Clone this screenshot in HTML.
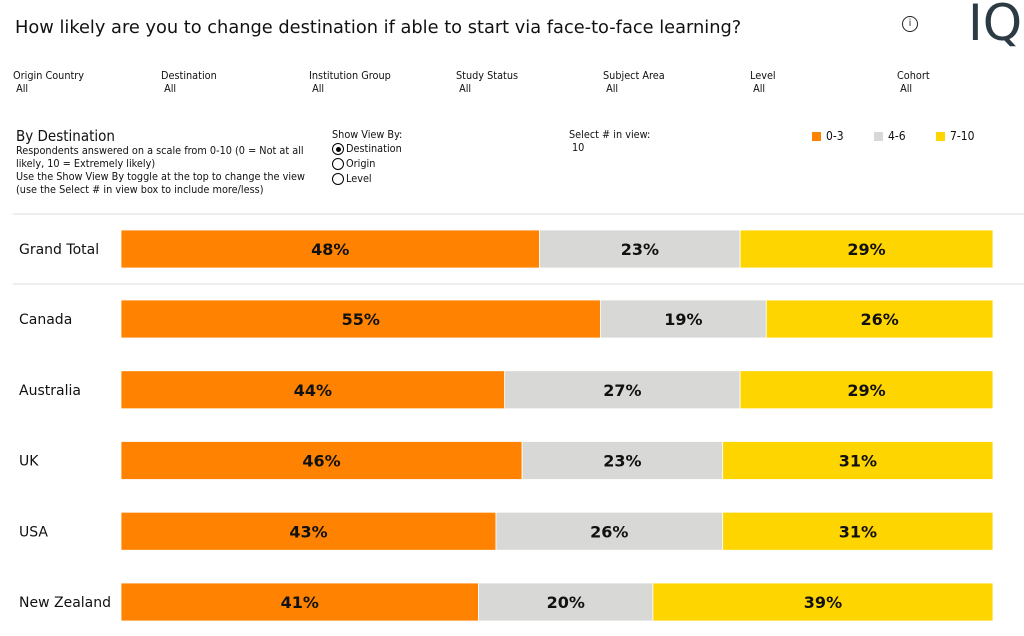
<!DOCTYPE html>
<html><head><meta charset="utf-8"><style>
body{margin:0;width:1024px;height:636px;background:#fff;font-family:"DejaVu Sans Condensed","DejaVu Sans","Liberation Sans",sans-serif;color:#111;position:relative;overflow:hidden}
.a{position:absolute;white-space:nowrap}
.f{font-size:10.8px;line-height:13px}
.sm{font-size:10.8px;line-height:13px}
.rad{display:inline-block;width:12px;height:12px;border:1px solid #000;border-radius:50%;vertical-align:-3px;margin-right:2px;box-sizing:border-box;position:relative}
.rad.on::after{content:"";position:absolute;left:2.5px;top:2.5px;width:5px;height:5px;border-radius:50%;background:#000}
.sw{display:inline-block;width:9px;height:9px;vertical-align:-1px;margin-right:5px}
</style></head><body>
<div class="a" style="left:15px;top:17px;font-size:17.8px;font-family:'DejaVu Sans',sans-serif">How likely are you to change destination if able to start via face-to-face learning?</div>
<div class="a" style="left:902px;top:16px;width:14px;height:14px;border:1.5px solid #222;border-radius:50%;font-size:10px;text-align:center;line-height:14px">i</div>
<div class="a" style="left:968px;top:-6px;font-size:50px;color:#2c3a44;font-family:'DejaVu Sans',sans-serif">IQ</div>
<div class="a f" style="left:13px;top:69px">Origin Country<br>&nbsp;All</div>
<div class="a f" style="left:161px;top:69px">Destination<br>&nbsp;All</div>
<div class="a f" style="left:309px;top:69px">Institution Group<br>&nbsp;All</div>
<div class="a f" style="left:456px;top:69px">Study Status<br>&nbsp;All</div>
<div class="a f" style="left:603px;top:69px">Subject Area<br>&nbsp;All</div>
<div class="a f" style="left:750px;top:69px">Level<br>&nbsp;All</div>
<div class="a f" style="left:897px;top:69px">Cohort<br>&nbsp;All</div>
<div class="a" style="left:16px;top:127px;font-size:15px">By Destination</div>
<div class="a sm" style="left:16px;top:144px">Respondents answered on a scale from 0-10 (0 = Not at all<br>likely, 10 = Extremely likely)<br>Use the Show View By toggle at the top to change the view<br>(use the Select # in view box to include more/less)</div>
<div class="a sm" style="left:332px;top:128px">Show View By:</div>
<div class="a f" style="left:332px;top:142px"><span class="rad on"></span>Destination</div>
<div class="a f" style="left:332px;top:157px"><span class="rad"></span>Origin</div>
<div class="a f" style="left:332px;top:172px"><span class="rad"></span>Level</div>
<div class="a sm" style="left:569px;top:128px">Select # in view:</div>
<div class="a f" style="left:572px;top:141px">10</div>
<div class="a f" style="left:812px;top:130px;font-size:12px"><span class="sw" style="background:#ff8300"></span>0-3</div>
<div class="a f" style="left:874px;top:130px;font-size:12px"><span class="sw" style="background:#d8d8d6"></span>4-6</div>
<div class="a f" style="left:936px;top:130px;font-size:12px"><span class="sw" style="background:#ffd500"></span>7-10</div>
<svg id="chart" class="a" style="left:0;top:0" width="1024" height="636"></svg>
<script>
const categories=["Grand Total","Canada","Australia","UK","USA","New Zealand"];
const low=[48,55,44,46,43,41];
const mid=[23,19,27,23,26,20];
const high=[29,26,29,31,31,39];
const colors=["#ff8300","#d8d8d6","#ffd500"];
const svg=document.getElementById('chart');
const NS="http://www.w3.org/2000/svg";
const x0=121,x1=993;
const xs=v=>v/100*(x1-x0);
const ys=i=>i===0?230:300+(i-1)*70.75;
const bh=38;
function mk(t,a){const e=document.createElementNS(NS,t);for(const k in a)e.setAttribute(k,a[k]);svg.appendChild(e);return e;}
[214,284].forEach(y=>{const l=mk('line',{x1:13,x2:1024,y1:y,y2:y,stroke:'#ddd','stroke-width':1});

});
categories.forEach((c,i)=>{
 const y=ys(i);
 const t=mk('text',{x:19,y:y+bh/2+5,'font-size':14,fill:'#111','font-family':'DejaVu Sans,sans-serif'});t.textContent=c;
 
 
 let x=x0;
 [low[i],mid[i],high[i]].forEach((v,j)=>{
  const w=xs(v);
  const r=mk('rect',{x:x,y:y,width:w,height:bh,fill:colors[j],stroke:'#fff','stroke-width':0.8});
  
  
  const tx=mk('text',{x:x+w/2,y:y+bh/2+6,'text-anchor':'middle','font-size':16,'font-weight':'bold',fill:'#111','font-family':'DejaVu Sans,sans-serif'});
  tx.textContent=v+'%';
  
  
  x+=w;
 });
});
</script>
</body></html>
